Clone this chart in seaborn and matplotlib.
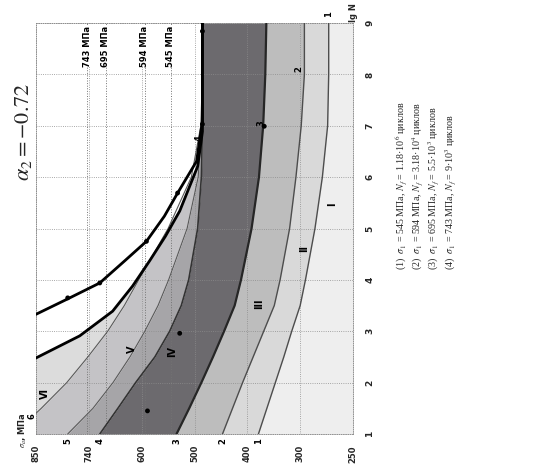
# Fatigue zone chart (scanned page, drawn turned 90 degrees as in the source)
import numpy as np
import matplotlib
matplotlib.use("Agg")
import matplotlib.pyplot as plt
import seaborn as sns

# ---------------------------------------------------------------
# Data
# ---------------------------------------------------------------
sigma_ticks = [850, 740, 600, 500, 400, 300, 250]
sigma_ticklabels = ["850", "740", "600", "500", "400", "300", "250"]
lgn_ticks = [1, 2, 3, 4, 5, 6, 7, 8, 9]

# zone boundary curves 1..6: stress amplitude (MPa) at each lg N
lgn = [1, 1.5, 2, 2.5, 3, 3.5, 4, 5, 6, 7, 8, 9]
curve1 = [379, 363, 347, 331, 316, 300, 295, 286, 279, 274, 273, 273]
curve2 = [447, 428, 409, 389, 369, 349, 338, 320, 308, 299, 296, 296]
curve3 = [534, 510, 487, 465, 444, 424, 412, 392, 378, 370, 366, 364]
curve4 = [711, 663, 616, 575, 547, 525, 511, 494, 487, 485, 485, 485]
curve5 = [784, 729, 676, 631, 594, 569, 549, 514, 493, 487, 485, 485]
curve6 = [896, 839, 786, 742, 690, 646, 608, 550, 506, 488, 485, 485]

# the two thick experimental curves
lgn_a = [3.24, 3.33, 3.63, 3.94, 4.37, 4.75, 5.24, 5.69, 6.31, 7.09, 9.0]
sigma_a = [883, 850, 784, 711, 645, 591, 557, 532, 496, 485, 485]
lgn_b = [2.38, 2.48, 2.91, 3.39, 3.88, 4.37, 4.85, 5.34, 6.21, 6.89, 9.0]
sigma_b = [883, 850, 759, 677, 624, 585, 555, 528, 494, 485, 485]

# test points
pts_sigma = [784, 711, 591, 532, 485, 485, 528, 589, 368]
pts_lgn = [3.65, 3.94, 4.75, 5.69, 7.03, 8.84, 2.96, 1.45, 6.99]

# reference stress levels
ref_sigma = [743, 695, 594, 545]
ref_labels = ["743 МПа", "695 МПа", "594 МПа", "545 МПа"]

# zone names
zone_names = ["I", "II", "III", "IV", "V", "VI"]
zone_sigma = [270, 296, 377, 542, 626, 831]
zone_lgn = [5.47, 4.62, 3.53, 2.61, 2.65, 1.78]

# curve numbers at both ends
end_names = ["6", "5", "4", "3", "2", "1", "1", "2", "3", "4"]
end_sigma = [858, 784, 711, 534, 447, 379, 273, 303, 374, 491]
end_lgn = [1.35, 0.86, 0.86, 0.86, 0.86, 0.86, 9.17, 8.1, 7.05, 6.76]

legend_lines = [
    r"(1)  $\sigma_1$ = 545 МПа, $N_f$ = 1.18·10$^6$ циклов",
    r"(2)  $\sigma_1$ = 594 МПа, $N_f$ = 3.18·10$^4$ циклов",
    r"(3)  $\sigma_1$ = 695 МПа, $N_f$ = 5.5·10$^3$ циклов",
    r"(4)  $\sigma_1$ = 743 МПа, $N_f$ = 9·10$^3$ циклов",
]

# ---------------------------------------------------------------
# Style
# ---------------------------------------------------------------
sns.set_theme(style="white")
plt.rcParams["font.family"] = ["DejaVu Sans"]
plt.rcParams["mathtext.fontset"] = "stix"

fig = plt.figure(figsize=(5.44, 4.70), dpi=100)
ax = fig.add_axes([36 / 544, 36 / 470, 317 / 544, 411 / 470])

# the stress axis of the scan has evenly spaced, unevenly valued ticks
sig_grid = np.array(sigma_ticks[::-1], dtype=float)
pos_grid = np.arange(len(sig_grid), dtype=float)


def forward(s):
    s = np.asarray(s, dtype=float)
    p = np.interp(s, sig_grid, pos_grid)
    p = np.where(s > sig_grid[-1], pos_grid[-1] + (s - sig_grid[-1]) / 110, p)
    p = np.where(s < sig_grid[0], (s - sig_grid[0]) / 50, p)
    return p


def inverse(p):
    p = np.asarray(p, dtype=float)
    s = np.interp(p, pos_grid, sig_grid)
    s = np.where(p > pos_grid[-1], sig_grid[-1] + (p - pos_grid[-1]) * 110, s)
    s = np.where(p < 0, sig_grid[0] + p * 50, s)
    return s


ax.set_xscale("function", functions=(forward, inverse))
ax.set_xlim(850, 250)
ax.set_ylim(1, 9)

# ---------------------------------------------------------------
# Shaded zones
# ---------------------------------------------------------------
ax.fill_betweenx(lgn, curve1, 250, color="#eeeeee", lw=0, zorder=1)
ax.fill_betweenx(lgn, curve2, curve1, color="#d9d9d9", lw=0, zorder=1)
ax.fill_betweenx(lgn, curve3, curve2, color="#bdbdbd", lw=0, zorder=1)
ax.fill_betweenx(lgn, curve4, curve3, color="#6c6a6e", lw=0, zorder=1)
ax.fill_betweenx(lgn, curve5, curve4, color="#a6a5a8", lw=0, zorder=1)
ax.fill_betweenx(lgn, curve6, curve5, color="#c4c3c6", lw=0, zorder=1)
ax.fill_betweenx(lgn, 850, curve6, color="#dcdcdc", lw=0, zorder=1)
# white above the lower experimental curve
ax.fill_betweenx(lgn_b, 850, sigma_b, color="white", lw=0, zorder=1.2)

# grid and reference stress levels
ax.set_axisbelow(False)
ax.grid(True, ls=":", color="0.55", lw=0.6)
for s in ref_sigma:
    ax.axvline(s, ls=":", color="0.45", lw=0.7, zorder=2.6)

# ---------------------------------------------------------------
# Curves
# ---------------------------------------------------------------
for vals, lw, col in [(curve1, 1.0, "0.3"), (curve2, 1.0, "0.3"),
                      (curve3, 1.6, "0.15"), (curve4, 1.2, "0.2"),
                      (curve5, 0.8, "0.35"), (curve6, 0.8, "0.35")]:
    sns.lineplot(x=vals, y=lgn, sort=False, estimator=None, color=col,
                 lw=lw, ax=ax, zorder=3)

sns.lineplot(x=sigma_a, y=lgn_a, sort=False, estimator=None, color="black",
             lw=2.0, ax=ax, zorder=4)
sns.lineplot(x=sigma_b, y=lgn_b, sort=False, estimator=None, color="black",
             lw=2.0, ax=ax, zorder=4)

sns.scatterplot(x=pts_sigma, y=pts_lgn, color="black", s=12,
                edgecolor="none", ax=ax, zorder=5)

# labels inside the plot
for name, s, n in zip(zone_names, zone_sigma, zone_lgn):
    ax.text(s, n, name, rotation=90, ha="center", va="center",
            fontsize=7, fontweight="bold", color="black", zorder=6)
for name, s, n in zip(end_names, end_sigma, end_lgn):
    ax.text(s, n, name, rotation=90, ha="center", va="center",
            fontsize=6, fontweight="bold", color="black", zorder=6,
            clip_on=False)
for s, lab in zip(ref_sigma, ref_labels):
    ax.text(s, 8.55, lab, rotation=90, ha="center", va="center",
            fontsize=6, fontweight="bold", color="black", zorder=6,
            bbox=dict(facecolor="white", edgecolor="none", pad=0.5))

# ---------------------------------------------------------------
# Axes
# ---------------------------------------------------------------
ax.set_xticks(sigma_ticks)
ax.set_xticklabels(sigma_ticklabels, rotation=90, fontsize=6, fontweight="bold")
ax.yaxis.tick_right()
ax.set_yticks(lgn_ticks)
ax.set_yticklabels([str(t) for t in lgn_ticks], rotation=90, fontsize=6.5,
                   fontweight="bold", va="center")
ax.tick_params(axis="x", length=0, pad=8)
ax.tick_params(axis="y", length=0, pad=9)
ax.minorticks_off()
for sp in ax.spines.values():
    sp.set_color("0.5")
    sp.set_linewidth(0.6)
    sp.set_linestyle(":")

fig.text(23 / 544, 1 - 430 / 470, r"$\sigma_a$, МПа", rotation=90,
         ha="center", va="center", fontsize=6, fontweight="bold")
fig.text(354 / 544, 1 - 13 / 470, "lg N", rotation=90,
         ha="center", va="center", fontsize=6, fontweight="bold")

# title
fig.text(23 / 544, 1 - 132 / 470, r"$\alpha_2 = -0.72$", rotation=90,
         ha="center", va="center", fontsize=16)

# legend block
for i, line in enumerate(legend_lines):
    fig.text((401 + 16.5 * i) / 544, 1 - 270 / 470, line, rotation=90,
             ha="center", va="bottom", fontsize=7.2,
             family=["Liberation Serif", "DejaVu Serif"])

fig.savefig("out.png", dpi=100)
